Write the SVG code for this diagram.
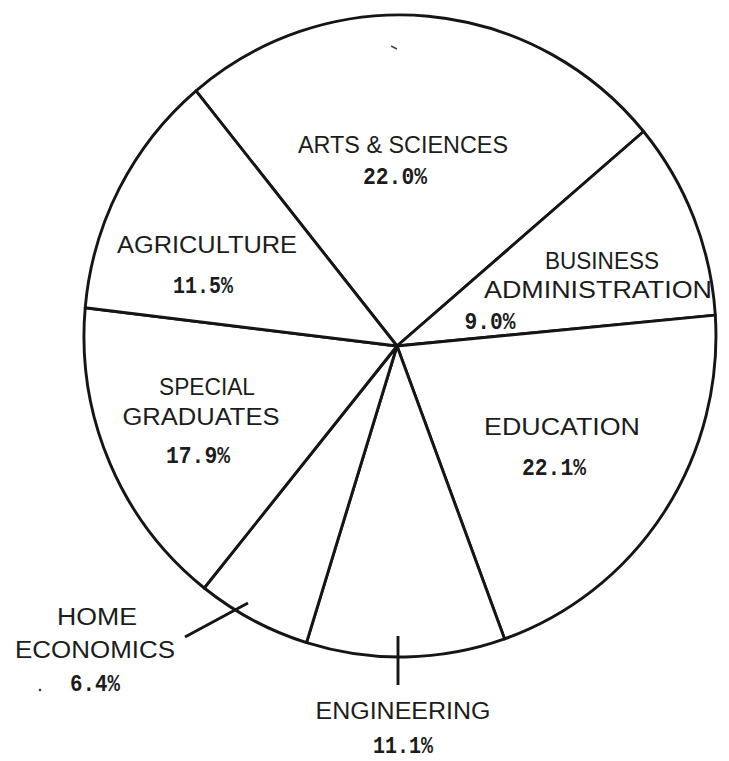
<svg xmlns="http://www.w3.org/2000/svg" width="729" height="761" viewBox="0 0 729 761">
<style>
.slice{fill:#fff;stroke:#151515;stroke-width:2.9;stroke-linejoin:round}
.lbl{font-family:"Liberation Sans",Arial,sans-serif;font-size:23px;fill:#1c1c1c;text-anchor:middle}
.pct{font-family:"Liberation Mono","Courier New",monospace;font-size:23px;font-weight:bold;fill:#1c1c1c;text-anchor:middle}
.lead{stroke:#151515;stroke-width:2.9;fill:none;stroke-linecap:butt}
</style>
<rect width="729" height="761" fill="#fff"/>
<g id="arts">
<path class="slice" d="M397,346 L196,90.8 A316,321 0 0 1 643.6,131.5 Z"/>
<text class="lbl" x="403" y="153" textLength="210" lengthAdjust="spacingAndGlyphs">ARTS &amp; SCIENCES</text>
<text class="pct" x="395" y="184" textLength="64" lengthAdjust="spacingAndGlyphs">22.0%</text>
</g>
<g id="business">
<path class="slice" d="M397,346 L643.6,131.5 A316,321 0 0 1 715.3,315.1 Z"/>
<text class="lbl" x="602" y="269" textLength="114" lengthAdjust="spacingAndGlyphs">BUSINESS</text>
<text class="lbl" x="598" y="298" textLength="228" lengthAdjust="spacingAndGlyphs">ADMINISTRATION</text>
<text class="pct" x="490" y="329" textLength="51" lengthAdjust="spacingAndGlyphs">9.0%</text>
</g>
<g id="education">
<path class="slice" d="M397,346 L715.3,315.1 A316,321 0 0 1 504.6,638.9 Z"/>
<text class="lbl" x="562" y="435" textLength="156" lengthAdjust="spacingAndGlyphs">EDUCATION</text>
<text class="pct" x="554" y="475" textLength="64" lengthAdjust="spacingAndGlyphs">22.1%</text>
</g>
<g id="engineering">
<path class="slice" d="M397,346 L504.6,638.9 A316,321 0 0 1 306.5,642.6 Z"/>
<text class="lbl" x="403" y="719" textLength="175" lengthAdjust="spacingAndGlyphs">ENGINEERING</text>
<text class="pct" x="403" y="753" textLength="60" lengthAdjust="spacingAndGlyphs">11.1%</text>
</g>
<g id="home-economics">
<path class="slice" d="M397,346 L306.5,642.6 A316,321 0 0 1 204.2,588 Z"/>
<text class="lbl" x="97" y="625" textLength="80" lengthAdjust="spacingAndGlyphs">HOME</text>
<text class="lbl" x="95" y="658" textLength="160" lengthAdjust="spacingAndGlyphs">ECONOMICS</text>
<text class="pct" x="95" y="691" textLength="50" lengthAdjust="spacingAndGlyphs">6.4%</text>
</g>
<g id="special-graduates">
<path class="slice" d="M397,346 L204.2,588 A316,321 0 0 1 85.2,307.8 Z"/>
<text class="lbl" x="207" y="395" textLength="96" lengthAdjust="spacingAndGlyphs">SPECIAL</text>
<text class="lbl" x="201" y="425" textLength="157" lengthAdjust="spacingAndGlyphs">GRADUATES</text>
<text class="pct" x="198" y="463" textLength="64" lengthAdjust="spacingAndGlyphs">17.9%</text>
</g>
<g id="agriculture">
<path class="slice" d="M397,346 L85.2,307.8 A316,321 0 0 1 196,90.8 Z"/>
<text class="lbl" x="207" y="253" textLength="180" lengthAdjust="spacingAndGlyphs">AGRICULTURE</text>
<text class="pct" x="203" y="293" textLength="60" lengthAdjust="spacingAndGlyphs">11.5%</text>
</g>
<g id="connectors">
<line class="lead" x1="185" y1="637" x2="248" y2="603"/>
<line class="lead" x1="398" y1="636" x2="398" y2="685"/>
</g>
<g id="marks">
<line x1="391" y1="46" x2="397" y2="49" stroke="#444" stroke-width="1.5"/>
<circle cx="40" cy="690" r="1.3" fill="#333"/>
</g>
</svg>
